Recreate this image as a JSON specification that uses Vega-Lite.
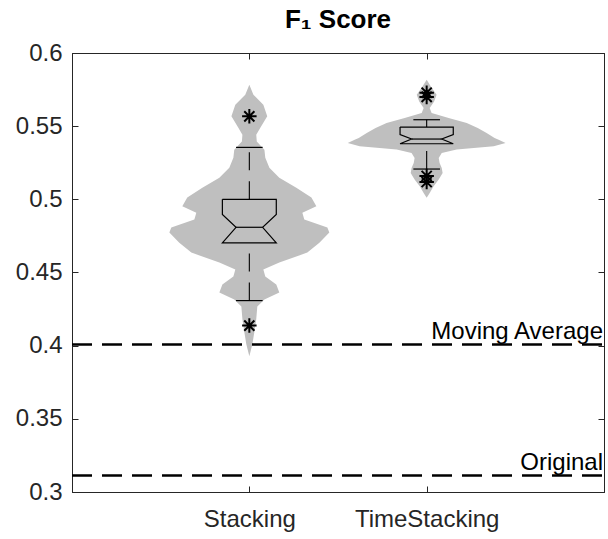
{
  "$schema": "https://vega.github.io/schema/vega-lite/v6.json",
  "width": 532,
  "height": 439,
  "autosize": "none",
  "padding": {"left": 72, "top": 53, "right": 4, "bottom": 47},
  "background": "white",
  "config": {
    "view": {"stroke": "#262626", "strokeWidth": 1},
    "font": "Liberation Sans",
    "axis": {
      "domainColor": "#262626",
      "tickColor": "#262626",
      "labelColor": "#262626",
      "labelFont": "Liberation Sans",
      "labelFontSize": 24,
      "grid": false,
      "title": null,
      "domainWidth": 1,
      "tickWidth": 1
    }
  },
  "title": {
    "text": "F₁ Score",
    "font": "Liberation Sans",
    "fontSize": 26,
    "fontWeight": "bold",
    "color": "black",
    "anchor": "middle",
    "frame": "group",
    "baseline": "alphabetic",
    "offset": -13
  },
  "datasets": {
    "violin": [
      {"g": "Stacking", "v": 0.5783, "lo": 1.0, "hi": 1.0},
      {"g": "Stacking", "v": 0.5715, "lo": 0.977, "hi": 1.023},
      {"g": "Stacking", "v": 0.5647, "lo": 0.921, "hi": 1.079},
      {"g": "Stacking", "v": 0.5567, "lo": 0.899, "hi": 1.101},
      {"g": "Stacking", "v": 0.549, "lo": 0.938, "hi": 1.062},
      {"g": "Stacking", "v": 0.5442, "lo": 0.961, "hi": 1.039},
      {"g": "Stacking", "v": 0.5396, "lo": 0.958, "hi": 1.042},
      {"g": "Stacking", "v": 0.5339, "lo": 0.915, "hi": 1.085},
      {"g": "Stacking", "v": 0.5285, "lo": 0.91, "hi": 1.09},
      {"g": "Stacking", "v": 0.5216, "lo": 0.887, "hi": 1.113},
      {"g": "Stacking", "v": 0.5148, "lo": 0.831, "hi": 1.169},
      {"g": "Stacking", "v": 0.508, "lo": 0.735, "hi": 1.265},
      {"g": "Stacking", "v": 0.5012, "lo": 0.65, "hi": 1.35},
      {"g": "Stacking", "v": 0.4952, "lo": 0.622, "hi": 1.378},
      {"g": "Stacking", "v": 0.4909, "lo": 0.701, "hi": 1.299},
      {"g": "Stacking", "v": 0.4862, "lo": 0.69, "hi": 1.31},
      {"g": "Stacking", "v": 0.4807, "lo": 0.56, "hi": 1.44},
      {"g": "Stacking", "v": 0.4773, "lo": 0.549, "hi": 1.451},
      {"g": "Stacking", "v": 0.4704, "lo": 0.605, "hi": 1.395},
      {"g": "Stacking", "v": 0.4636, "lo": 0.673, "hi": 1.327},
      {"g": "Stacking", "v": 0.4568, "lo": 0.831, "hi": 1.169},
      {"g": "Stacking", "v": 0.452, "lo": 0.921, "hi": 1.079},
      {"g": "Stacking", "v": 0.4472, "lo": 0.91, "hi": 1.09},
      {"g": "Stacking", "v": 0.4418, "lo": 0.848, "hi": 1.152},
      {"g": "Stacking", "v": 0.4363, "lo": 0.831, "hi": 1.169},
      {"g": "Stacking", "v": 0.4316, "lo": 0.915, "hi": 1.085},
      {"g": "Stacking", "v": 0.4268, "lo": 0.955, "hi": 1.045},
      {"g": "Stacking", "v": 0.418, "lo": 0.961, "hi": 1.039},
      {"g": "Stacking", "v": 0.4091, "lo": 0.972, "hi": 1.028},
      {"g": "Stacking", "v": 0.4009, "lo": 0.983, "hi": 1.017},
      {"g": "Stacking", "v": 0.3927, "lo": 1.0, "hi": 1.0},
      {"g": "TimeStacking", "v": 0.5818, "lo": 2.0, "hi": 2.0},
      {"g": "TimeStacking", "v": 0.5763, "lo": 1.972, "hi": 2.028},
      {"g": "TimeStacking", "v": 0.5715, "lo": 1.944, "hi": 2.056},
      {"g": "TimeStacking", "v": 0.5669, "lo": 1.958, "hi": 2.042},
      {"g": "TimeStacking", "v": 0.5624, "lo": 1.983, "hi": 2.017},
      {"g": "TimeStacking", "v": 0.559, "lo": 1.972, "hi": 2.028},
      {"g": "TimeStacking", "v": 0.5556, "lo": 1.876, "hi": 2.124},
      {"g": "TimeStacking", "v": 0.5522, "lo": 1.774, "hi": 2.226},
      {"g": "TimeStacking", "v": 0.5488, "lo": 1.712, "hi": 2.288},
      {"g": "TimeStacking", "v": 0.5454, "lo": 1.662, "hi": 2.338},
      {"g": "TimeStacking", "v": 0.5419, "lo": 1.617, "hi": 2.383},
      {"g": "TimeStacking", "v": 0.5408, "lo": 1.594, "hi": 2.406},
      {"g": "TimeStacking", "v": 0.5385, "lo": 1.555, "hi": 2.445},
      {"g": "TimeStacking", "v": 0.5362, "lo": 1.622, "hi": 2.378},
      {"g": "TimeStacking", "v": 0.534, "lo": 1.831, "hi": 2.169},
      {"g": "TimeStacking", "v": 0.5317, "lo": 1.915, "hi": 2.085},
      {"g": "TimeStacking", "v": 0.5283, "lo": 1.932, "hi": 2.068},
      {"g": "TimeStacking", "v": 0.5249, "lo": 1.927, "hi": 2.073},
      {"g": "TimeStacking", "v": 0.5214, "lo": 1.915, "hi": 2.085},
      {"g": "TimeStacking", "v": 0.518, "lo": 1.91, "hi": 2.09},
      {"g": "TimeStacking", "v": 0.5135, "lo": 1.932, "hi": 2.068},
      {"g": "TimeStacking", "v": 0.5089, "lo": 1.961, "hi": 2.039},
      {"g": "TimeStacking", "v": 0.5044, "lo": 1.983, "hi": 2.017},
      {"g": "TimeStacking", "v": 0.501, "lo": 2.0, "hi": 2.0}
    ],
    "box": [
      {"g": "Stacking", "o": 1, "x": 0.848, "y": 0.5},
      {"g": "Stacking", "o": 2, "x": 1.152, "y": 0.5},
      {"g": "Stacking", "o": 3, "x": 1.152, "y": 0.4896},
      {"g": "Stacking", "o": 4, "x": 1.075, "y": 0.4809},
      {"g": "Stacking", "o": 5, "x": 1.152, "y": 0.4703},
      {"g": "Stacking", "o": 6, "x": 0.848, "y": 0.4703},
      {"g": "Stacking", "o": 7, "x": 0.925, "y": 0.4809},
      {"g": "Stacking", "o": 8, "x": 0.848, "y": 0.4896},
      {"g": "Stacking", "o": 9, "x": 0.848, "y": 0.5},
      {"g": "TimeStacking", "o": 1, "x": 1.85, "y": 0.5494},
      {"g": "TimeStacking", "o": 2, "x": 2.15, "y": 0.5494},
      {"g": "TimeStacking", "o": 3, "x": 2.15, "y": 0.5442},
      {"g": "TimeStacking", "o": 4, "x": 2.085, "y": 0.5412},
      {"g": "TimeStacking", "o": 5, "x": 2.15, "y": 0.538},
      {"g": "TimeStacking", "o": 6, "x": 1.85, "y": 0.538},
      {"g": "TimeStacking", "o": 7, "x": 1.915, "y": 0.5412},
      {"g": "TimeStacking", "o": 8, "x": 1.85, "y": 0.5442},
      {"g": "TimeStacking", "o": 9, "x": 1.85, "y": 0.5494}
    ],
    "segments": [
      {"g": "Stacking", "kind": "median", "x1": 0.925, "x2": 1.075, "v": 0.4809},
      {"g": "Stacking", "kind": "cap", "x1": 0.925, "x2": 1.075, "v": 0.5355},
      {"g": "Stacking", "kind": "cap", "x1": 0.925, "x2": 1.075, "v": 0.4308},
      {"g": "TimeStacking", "kind": "median", "x1": 1.915, "x2": 2.085, "v": 0.5412},
      {"g": "TimeStacking", "kind": "cap", "x1": 1.925, "x2": 2.075, "v": 0.5544},
      {"g": "TimeStacking", "kind": "cap", "x1": 1.925, "x2": 2.075, "v": 0.5207}
    ],
    "whiskers": [
      {"g": "Stacking", "c": 1, "lo": 0.5, "hi": 0.5355},
      {"g": "Stacking", "c": 1, "lo": 0.4308, "hi": 0.4703},
      {"g": "TimeStacking", "c": 2, "lo": 0.5494, "hi": 0.5544},
      {"g": "TimeStacking", "c": 2, "lo": 0.5207, "hi": 0.538}
    ],
    "outliers": [
      {"g": "Stacking", "c": 1, "v": 0.5567},
      {"g": "Stacking", "c": 1, "v": 0.4137},
      {"g": "TimeStacking", "c": 2, "v": 0.5729},
      {"g": "TimeStacking", "c": 2, "v": 0.57},
      {"g": "TimeStacking", "c": 2, "v": 0.516},
      {"g": "TimeStacking", "c": 2, "v": 0.5118}
    ],
    "hlines": [
      {"name": "Moving Average", "v": 0.4008},
      {"name": "Original", "v": 0.3113}
    ]
  },
  "resolve": {"axis": {"x": "independent", "y": "independent"}},
  "layer": [
    {
      "data": {"name": "violin"},
      "mark": {"type": "area", "orient": "horizontal", "color": "#bfbfbf", "opacity": 1},
      "encoding": {
        "y": {
          "field": "v", "type": "quantitative",
          "scale": {"domain": [0.3, 0.6], "nice": false, "zero": false},
          "axis": {"orient": "left", "values": [0.3, 0.35, 0.4, 0.45, 0.5, 0.55, 0.6], "format": "~g", "tickSize": -6, "labelPadding": 16}
        },
        "x": {
          "field": "lo", "type": "quantitative",
          "scale": {"domain": [0, 3], "nice": false, "zero": false},
          "axis": {"orient": "bottom", "values": [1, 2], "labelExpr": "datum.value == 1 ? 'Stacking' : 'TimeStacking'", "tickSize": -6, "labelPadding": 21}
        },
        "x2": {"field": "hi"},
        "detail": {"field": "g"}
      }
    },
    {
      "data": {"name": "hlines"},
      "mark": {"type": "rule", "color": "black", "strokeWidth": 2.5, "strokeDash": [20, 10]},
      "encoding": {
        "x": {"datum": 0, "type": "quantitative", "axis": null},
        "x2": {"datum": 3},
        "y": {
          "field": "v", "type": "quantitative",
          "axis": {"orient": "right", "values": [0.3, 0.35, 0.4, 0.45, 0.5, 0.55, 0.6], "labels": false, "tickSize": -6}
        }
      }
    },
    {
      "data": {"name": "whiskers"},
      "mark": {"type": "rule", "color": "black", "strokeWidth": 1.1, "strokeDash": [18, 11]},
      "encoding": {
        "x": {
          "field": "c", "type": "quantitative",
          "axis": {"orient": "top", "values": [1, 2], "labels": false, "tickSize": -6}
        },
        "y": {"field": "lo", "type": "quantitative", "axis": null},
        "y2": {"field": "hi"}
      }
    },
    {
      "data": {"name": "segments"},
      "mark": {"type": "rule", "color": "black", "strokeWidth": 1.2},
      "encoding": {
        "x": {"field": "x1", "type": "quantitative", "axis": null},
        "x2": {"field": "x2"},
        "y": {"field": "v", "type": "quantitative", "axis": null}
      }
    },
    {
      "data": {"name": "box"},
      "mark": {"type": "line", "color": "black", "strokeWidth": 1.2},
      "encoding": {
        "x": {"field": "x", "type": "quantitative", "axis": null},
        "y": {"field": "y", "type": "quantitative", "axis": null},
        "detail": {"field": "g"},
        "order": {"field": "o", "type": "quantitative"}
      }
    },
    {
      "data": {"name": "outliers"},
      "mark": {"type": "point", "shape": "M-1,0L1,0M0,-1L0,1M-0.7,-0.7L0.7,0.7M-0.7,0.7L0.7,-0.7", "filled": false, "color": "black", "strokeWidth": 2, "size": 210, "opacity": 1},
      "encoding": {
        "x": {"field": "c", "type": "quantitative", "axis": null},
        "y": {"field": "v", "type": "quantitative", "axis": null}
      }
    },
    {
      "data": {"name": "hlines"},
      "mark": {"type": "text", "align": "right", "baseline": "alphabetic", "dy": -5, "dx": -1, "fontSize": 24, "color": "black", "font": "Liberation Sans"},
      "encoding": {
        "x": {"datum": 3, "type": "quantitative", "axis": null},
        "y": {"field": "v", "type": "quantitative", "axis": null},
        "text": {"field": "name"}
      }
    }
  ]
}
